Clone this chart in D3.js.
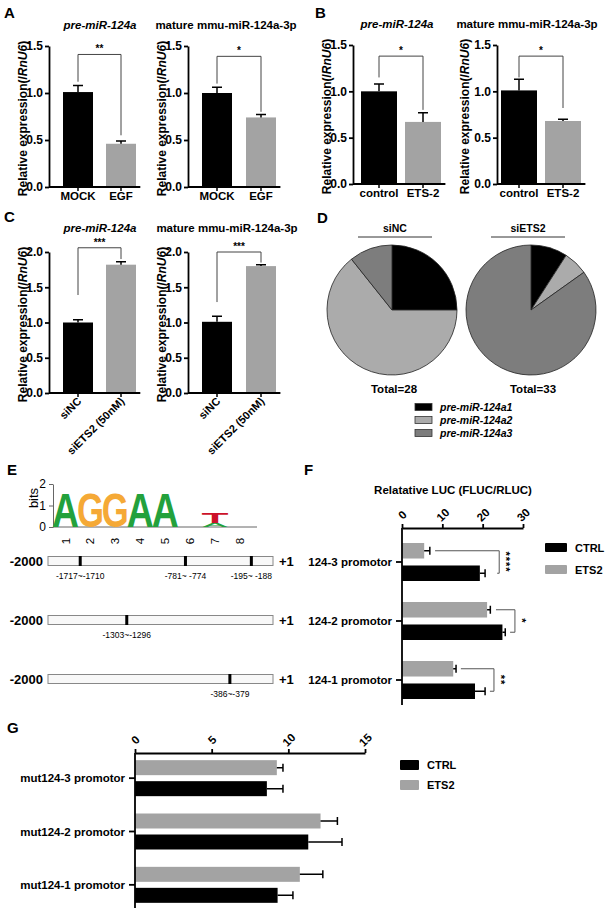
<!DOCTYPE html>
<html>
<head>
<meta charset="utf-8">
<script src="https://cdn.jsdelivr.net/npm/d3@7"></script>
<style>
  body { margin: 0; background: #fff; }
  svg text { font-family: "Liberation Sans", Arial, Helvetica, sans-serif; }
</style>
</head>
<body>
<svg id="fig" width="606" height="914"></svg>
<script>
// ---------- data ----------
const aGroups = ["MOCK", "EGF"];
const aPreMean = [1.01, 0.46];
const aPreSd = [0.07, 0.03];
const aMatMean = [1.0, 0.74];
const aMatSd = [0.06, 0.03];
const aSig = ["**", "*"];
const aBrackets = [[1.41, 1.12, 0.55], [1.39, 1.1, 0.8]];

const bGroups = ["control", "ETS-2"];
const bPreMean = [1.0, 0.67];
const bPreSd = [0.08, 0.1];
const bMatMean = [1.01, 0.68];
const bMatSd = [0.12, 0.02];
const bSig = ["*", "*"];
const bBrackets = [[1.38, 1.15, 0.8], [1.38, 1.15, 0.82]];

const cGroups = ["siNC", "siETS2 (50nM)"];
const cPreMean = [1.0, 1.82];
const cPreSd = [0.04, 0.04];
const cMatMean = [1.01, 1.8];
const cMatSd = [0.08, 0.02];
const cSig = ["***", "***"];
const cBrackets = [[2.06, 1.39, 1.9], [2.0, 1.29, 1.85]];

const titles = ["pre-miR-124a", "mature mmu-miR-124a-3p"];
const ticks15 = [0, 0.5, 1.0, 1.5];
const ticks20 = [0, 0.5, 1.0, 1.5, 2.0];

const pieKeys = ["pre-miR-124a1", "pre-miR-124a2", "pre-miR-124a3"];
const pieTitles = ["siNC", "siETS2"];
const siNCCounts = [7, 18, 3];
const siETS2Counts = [3, 2, 28];

const logoPositions = [1, 2, 3, 4, 5, 6, 7, 8];
const logoStacks = [
  [["A", 1.58]], [["G", 1.58]], [["G", 1.58]], [["A", 1.58]], [["A", 1.58]],
  [], [["A", 0.18], ["T", 0.47]], []
];

const promoterSites = [[-1713.5, -777.5, -191.5], [-1299.5], [-382.5]];
const promoterSiteLabels = [["-1717~-1710", "-781~ -774", "-195~ -188"], ["-1303~-1296"], ["-386~-379"]];

const fPromoters = ["124-3 promotor", "124-2 promotor", "124-1 promotor"];
const fCtrl = [19.3, 24.9, 18.1];
const fCtrlSd = [1.3, 0.7, 2.5];
const fEts2 = [5.5, 21.1, 12.7];
const fEts2Sd = [1.4, 0.8, 0.7];
const fSig = ["****", "*", "**"];
const fBrackets = [[8.2, 24.1, 23.6], [23.3, 28.0, 26.8], [14.6, 22.8, 21.8]];
const fTicks = [0, 10, 20, 30];

const gPromoters = ["mut124-3 promotor", "mut124-2 promotor", "mut124-1 promotor"];
const gCtrl = [8.6, 11.3, 9.3];
const gCtrlSd = [1.05, 2.2, 1.0];
const gEts2 = [9.25, 12.1, 10.75];
const gEts2Sd = [0.4, 1.1, 1.5];
const gTicks = [0, 5, 10, 15];

const seriesNames = ["CTRL", "ETS2"];

// ---------- drawing ----------
const svg = d3.select("#fig");
const GRAY = "#a3a3a3";
const PIE_COLORS = ["#000000", "#ababab", "#7d7d7d"];
const LOGO_COLORS = { A: "#23a13c", G: "#f5a936", T: "#cc1129" };

function txt(parent, x, y, s, size, opts = {}) {
  return parent.append("text")
    .attr("x", x).attr("y", y)
    .attr("font-size", size)
    .attr("font-weight", opts.weight || "bold")
    .attr("font-style", opts.italic ? "italic" : null)
    .attr("text-anchor", opts.anchor || "start")
    .attr("fill", opts.fill || "#000")
    .text(s);
}

function styleAxis(sel, size, weight = "bold", width = 1.8) {
  sel.attr("font-family", null).attr("font-size", size).attr("font-weight", weight);
  sel.selectAll("path.domain, line").attr("stroke", "#000").attr("stroke-width", width);
  sel.selectAll("text").attr("fill", "#000");
}

[["A", 4, 18], ["B", 315, 18], ["C", 4, 222], ["D", 317, 223], ["E", 7, 475], ["F", 304, 475], ["G", 7, 733]]
  .forEach(([t, x, y]) => txt(svg, x, y, t, 15));

function columnChart(o) {
  const n = o.groups.length;
  const po = 0.1;
  const pi = 1 - o.barW / o.step;
  const x0 = o.barStart - po * o.step;
  const x1 = x0 + o.step * (n - pi + 2 * po);
  const x = d3.scaleBand().domain(o.groups).range([x0, x1]).paddingInner(pi).paddingOuter(po);
  const y = d3.scaleLinear().domain([0, o.yMax]).range([o.yBottom, o.yTop]);
  const g = svg.append("g");
  const data = o.groups.map((k, i) => ({ k, i, m: o.mean[i], s: o.sd[i] }));
  const cx = (k) => x(k) + x.bandwidth() / 2;

  g.selectAll(".bar").data(data).join("rect")
    .attr("x", (d) => x(d.k)).attr("width", x.bandwidth())
    .attr("y", (d) => y(d.m)).attr("height", (d) => y(0) - y(d.m))
    .attr("fill", (d) => (d.i === 0 ? "#000" : GRAY));

  g.selectAll(".err").data(data).join("path")
    .attr("d", (d) => `M${cx(d.k)},${y(d.m)}V${y(d.m + d.s)}M${cx(d.k) - 5},${y(d.m + d.s)}H${cx(d.k) + 5}`)
    .attr("stroke", "#000").attr("stroke-width", 1.5).attr("fill", "none");

  const ya = g.append("g").attr("transform", `translate(${o.axisX},0)`)
    .call(d3.axisLeft(y).tickValues(o.ticks).tickFormat(d3.format(".1f")).tickSize(4).tickSizeOuter(0).tickPadding(2));
  styleAxis(ya, 12);

  g.append("line")
    .attr("x1", o.axisX).attr("x2", x1).attr("y1", y(0)).attr("y2", y(0))
    .attr("stroke", "#000").attr("stroke-width", 1.8);
  g.selectAll(".xt").data(o.groups).join("line")
    .attr("x1", cx).attr("x2", cx).attr("y1", y(0)).attr("y2", y(0) + 4)
    .attr("stroke", "#000").attr("stroke-width", 1.5);

  if (o.rotate) {
    o.groups.forEach((k) => {
      txt(g, 0, 0, k, 11, { anchor: "end" })
        .attr("transform", `translate(${cx(k) + 4},${y(0) + 9}) rotate(-45)`);
    });
  } else {
    o.groups.forEach((k) => txt(g, cx(k), y(0) + 13, k, 11.5, { anchor: "middle" }));
  }

  // significance bracket
  const [top, l, r] = o.bracket;
  const c0 = cx(o.groups[0]), c1 = cx(o.groups[1]);
  g.append("path")
    .attr("d", `M${c0},${y(l)}V${y(top)}H${c1}V${y(r)}`)
    .attr("stroke", "#444").attr("stroke-width", 1).attr("fill", "none");
  txt(g, (c0 + c1) / 2, y(top) - 2, o.sig, 10, { anchor: "middle" });

  txt(g, o.titleX, o.titleY, o.title, 11.5, { anchor: "middle", italic: o.titleItalic });

  const yl = txt(g, 0, 0, "Relative expression(/", 12, { anchor: "middle" })
    .attr("transform", `translate(${o.labelX},${(o.yTop + o.yBottom) / 2 + 2}) rotate(-90)`)
    .attr("dy", "0.35em");
  yl.append("tspan").attr("font-style", "italic").text("RnU6");
  yl.append("tspan").text(")");
}

const colBase = { step: 43, barW: 30 };
columnChart({ ...colBase, groups: aGroups, mean: aPreMean, sd: aPreSd, sig: aSig[0], bracket: aBrackets[0],
  axisX: 49, barStart: 63, yTop: 46, yBottom: 187, yMax: 1.5, ticks: ticks15,
  title: titles[0], titleItalic: true, titleX: 100, titleY: 29, labelX: 23 });
columnChart({ ...colBase, step: 44, groups: aGroups, mean: aMatMean, sd: aMatSd, sig: aSig[1], bracket: aBrackets[1],
  axisX: 188, barStart: 202, yTop: 46, yBottom: 187, yMax: 1.5, ticks: ticks15,
  title: titles[1], titleX: 226, titleY: 29, labelX: 162 });
columnChart({ step: 44, barW: 36, groups: bGroups, mean: bPreMean, sd: bPreSd, sig: bSig[0], bracket: bBrackets[0],
  axisX: 353, barStart: 361, yTop: 45, yBottom: 184, yMax: 1.5, ticks: ticks15,
  title: titles[0], titleItalic: true, titleX: 397, titleY: 28, labelX: 327 });
columnChart({ step: 44, barW: 36, groups: bGroups, mean: bMatMean, sd: bMatSd, sig: bSig[1], bracket: bBrackets[1],
  axisX: 497, barStart: 501, yTop: 45, yBottom: 184, yMax: 1.5, ticks: ticks15,
  title: titles[1], titleX: 527, titleY: 28, labelX: 465 });
columnChart({ ...colBase, groups: cGroups, mean: cPreMean, sd: cPreSd, sig: cSig[0], bracket: cBrackets[0],
  axisX: 49, barStart: 63, yTop: 252, yBottom: 393, yMax: 2.0, ticks: ticks20, rotate: true,
  title: titles[0], titleItalic: true, titleX: 100, titleY: 232, labelX: 23 });
columnChart({ ...colBase, step: 44, groups: cGroups, mean: cMatMean, sd: cMatSd, sig: cSig[1], bracket: cBrackets[1],
  axisX: 188, barStart: 202, yTop: 252, yBottom: 393, yMax: 2.0, ticks: ticks20, rotate: true,
  title: titles[1], titleX: 227, titleY: 232, labelX: 162 });

// ---------- D: pies ----------
const pieGen = d3.pie().sort(null);
const pieArc = d3.arc().innerRadius(0).outerRadius(65);
[[siNCCounts, pieTitles[0], 392, 395], [siETS2Counts, pieTitles[1], 531, 528]].forEach(([counts, title, cx, hx]) => {
  const g = svg.append("g");
  g.append("g").attr("transform", `translate(${cx},310)`)
    .selectAll("path").data(pieGen(counts)).join("path")
    .attr("d", pieArc)
    .attr("fill", (d, i) => PIE_COLORS[i])
    .attr("stroke", "#222").attr("stroke-width", 0.8);
  txt(g, hx, 232, title, 10.5, { anchor: "middle" });
  g.append("line").attr("x1", hx - 37).attr("x2", hx + 37).attr("y1", 237).attr("y2", 237)
    .attr("stroke", "#333").attr("stroke-width", 1);
  txt(g, cx + 2, 393, "Total=" + d3.sum(counts), 11.5, { anchor: "middle" });
});
const legY = d3.scalePoint().domain(pieKeys).range([407, 433]);
pieKeys.forEach((k, i) => {
  svg.append("rect").attr("x", 415).attr("y", legY(k) - 3.5).attr("width", 17).attr("height", 7)
    .attr("fill", PIE_COLORS[i]).attr("stroke", "#333").attr("stroke-width", 0.8);
  txt(svg, 440, legY(k) + 4, k, 10.5, { italic: true });
});

// ---------- E: logo ----------
const logoX = d3.scaleLinear().domain([1, 8]).range([65.5, 240]);
const logoY = d3.scaleLinear().domain([0, 2]).range([527, 484]);
const lg = svg.append("g");
const la = lg.append("g").attr("transform", "translate(53,0)")
  .call(d3.axisLeft(logoY).tickValues([0, 1, 2]).tickFormat(d3.format("d")).tickSize(4).tickSizeOuter(0).tickPadding(3));
styleAxis(la, 12, "normal", 1);
la.selectAll("path.domain, line").attr("stroke", "#666");
lg.append("line").attr("x1", 53).attr("x2", 257).attr("y1", 527).attr("y2", 527)
  .attr("stroke", "#666").attr("stroke-width", 1);
txt(lg, 0, 0, "bits", 13, { weight: "normal", anchor: "middle" })
  .attr("transform", "translate(33,498) rotate(-90)").attr("dy", "0.35em");
logoPositions.forEach((p) => {
  txt(lg, 0, 0, p, 11.5, { weight: "normal", anchor: "middle" })
    .attr("transform", `translate(${logoX(p)},541) rotate(-90)`).attr("dy", "0.35em");
});
const LETTER_W = 27;
logoStacks.forEach((stack, i) => {
  let base = 0;
  stack.forEach(([ch, h]) => {
    const t = lg.append("text").attr("font-size", 100).attr("font-weight", "bold")
      .attr("text-anchor", "middle").attr("fill", LOGO_COLORS[ch]).text(ch);
    const w = t.node().getComputedTextLength();
    const sy = (logoY(base) - logoY(base + h)) / 71.6;
    t.attr("transform", `translate(${logoX(logoPositions[i])},${logoY(base)}) scale(${LETTER_W / w},${sy})`);
    base += h;
  });
});

// promoter maps
const px = d3.scaleLinear().domain([-2000, 1]).range([48, 273]);
const py = d3.scalePoint().domain(d3.range(promoterSites.length)).range([561, 679]);
promoterSites.forEach((sites, i) => {
  const cy = py(i);
  const g = svg.append("g");
  txt(g, 43, cy + 4.5, "-2000", 13, { anchor: "end" });
  txt(g, 279, cy + 4.5, "+1", 13);
  g.append("rect").attr("x", px(-2000)).attr("y", cy - 4.5).attr("width", px(1) - px(-2000)).attr("height", 9)
    .attr("fill", "#f8f8f8").attr("stroke", "#888").attr("stroke-width", 1);
  g.selectAll(".site").data(sites).join("rect")
    .attr("x", (d) => px(d) - 1.5).attr("y", cy - 5).attr("width", 3).attr("height", 10).attr("fill", "#000");
  sites.forEach((s, j) => txt(g, px(s), cy + 18, promoterSiteLabels[i][j], 8.5, { weight: "normal", anchor: "middle" }));
});

// ---------- F, G: horizontal bars ----------
function hbarChart(o) {
  const g = svg.append("g");
  const x = d3.scaleLinear().domain([0, o.xMax]).range([o.x0, o.x1]);
  const y = d3.scaleBand().domain(o.cats).range(o.band);
  const inner = d3.scaleBand().domain(["ETS2", "CTRL"]).range([-o.half, o.half]).paddingInner(o.pi);
  const cy = (c) => y(c) + y.bandwidth() / 2;
  const rows = [];
  o.cats.forEach((c, i) => {
    rows.push({ c, s: "ETS2", m: o.ets2[i], sd: o.ets2Sd[i] });
    rows.push({ c, s: "CTRL", m: o.ctrl[i], sd: o.ctrlSd[i] });
  });
  const by = (d) => cy(d.c) + inner(d.s);
  const my = (d) => by(d) + inner.bandwidth() / 2;

  g.selectAll(".bar").data(rows).join("rect")
    .attr("x", x(0)).attr("y", by).attr("height", inner.bandwidth())
    .attr("width", (d) => x(d.m) - x(0))
    .attr("fill", (d) => (d.s === "CTRL" ? "#000" : GRAY));
  g.selectAll(".err").data(rows).join("path")
    .attr("d", (d) => `M${x(d.m)},${my(d)}H${x(d.m + d.sd)}M${x(d.m + d.sd)},${my(d) - 4}V${my(d) + 4}`)
    .attr("stroke", "#000").attr("stroke-width", 1.5).attr("fill", "none");

  const ta = g.append("g").attr("transform", `translate(0,${o.topY})`)
    .call(d3.axisTop(x).tickValues(o.ticks).tickSize(4).tickSizeOuter(0));
  styleAxis(ta, 11.5);
  ta.selectAll("text").attr("y", null).attr("dy", "0.35em").attr("text-anchor", "middle")
    .attr("transform", "translate(0,-13) rotate(-45)");

  g.append("line").attr("x1", x(0)).attr("x2", x(0)).attr("y1", o.topY).attr("y2", o.bottomY)
    .attr("stroke", "#000").attr("stroke-width", 1.8);
  o.cats.forEach((c) => {
    g.append("line").attr("x1", x(0) - 6).attr("x2", x(0)).attr("y1", cy(c)).attr("y2", cy(c))
      .attr("stroke", "#000").attr("stroke-width", 1.8);
    txt(g, x(0) - 10, cy(c) + 4, c, 11.5, { anchor: "end" });
  });

  if (o.brackets) {
    o.cats.forEach((c, i) => {
      const [b0, b1, b2] = o.brackets[i];
      const ye = cy(c) + inner("ETS2") + inner.bandwidth() / 2;
      const yc = cy(c) + inner("CTRL") + inner.bandwidth() / 2;
      g.append("path").attr("d", `M${x(b0)},${ye}H${x(b1)}V${yc}H${x(b2)}`)
        .attr("stroke", "#555").attr("stroke-width", 1).attr("fill", "none");
      txt(g, 0, 0, o.sig[i], 11, { anchor: "middle" }).attr("letter-spacing", 1)
        .attr("transform", `translate(${x(b1) + 3},${(ye + yc) / 2}) rotate(90)`);
    });
  }
  if (o.title) txt(g, o.titleX, o.titleY, o.title, 11.5, { anchor: "middle" });

  seriesNames.forEach((s, i) => {
    const ly = o.legY[i];
    g.append("rect").attr("x", o.legX).attr("y", ly).attr("width", o.legW).attr("height", o.legH)
      .attr("rx", 1).attr("fill", s === "CTRL" ? "#000" : GRAY);
    txt(g, o.legX + o.legW + 8, ly + o.legH / 2 + 4, s, 11);
  });
}

hbarChart({ cats: fPromoters, ctrl: fCtrl, ctrlSd: fCtrlSd, ets2: fEts2, ets2Sd: fEts2Sd,
  xMax: 30, ticks: fTicks, x0: 402, x1: 523, topY: 528, bottomY: 705, band: [532.5, 709.5],
  half: 19, pi: 0.31, brackets: fBrackets, sig: fSig,
  title: "Relatative LUC (FLUC/RLUC)", titleX: 453, titleY: 494,
  legX: 545, legW: 22, legH: 9, legY: [543, 565] });

hbarChart({ cats: gPromoters, ctrl: gCtrl, ctrlSd: gCtrlSd, ets2: gEts2, ets2Sd: gEts2Sd,
  xMax: 15, ticks: gTicks, x0: 135, x1: 365, topY: 753, bottomY: 908, band: [751.5, 911.5],
  half: 18, pi: 0.286,
  legX: 400, legW: 19, legH: 10, legY: [760, 780] });
</script>
</body>
</html>
